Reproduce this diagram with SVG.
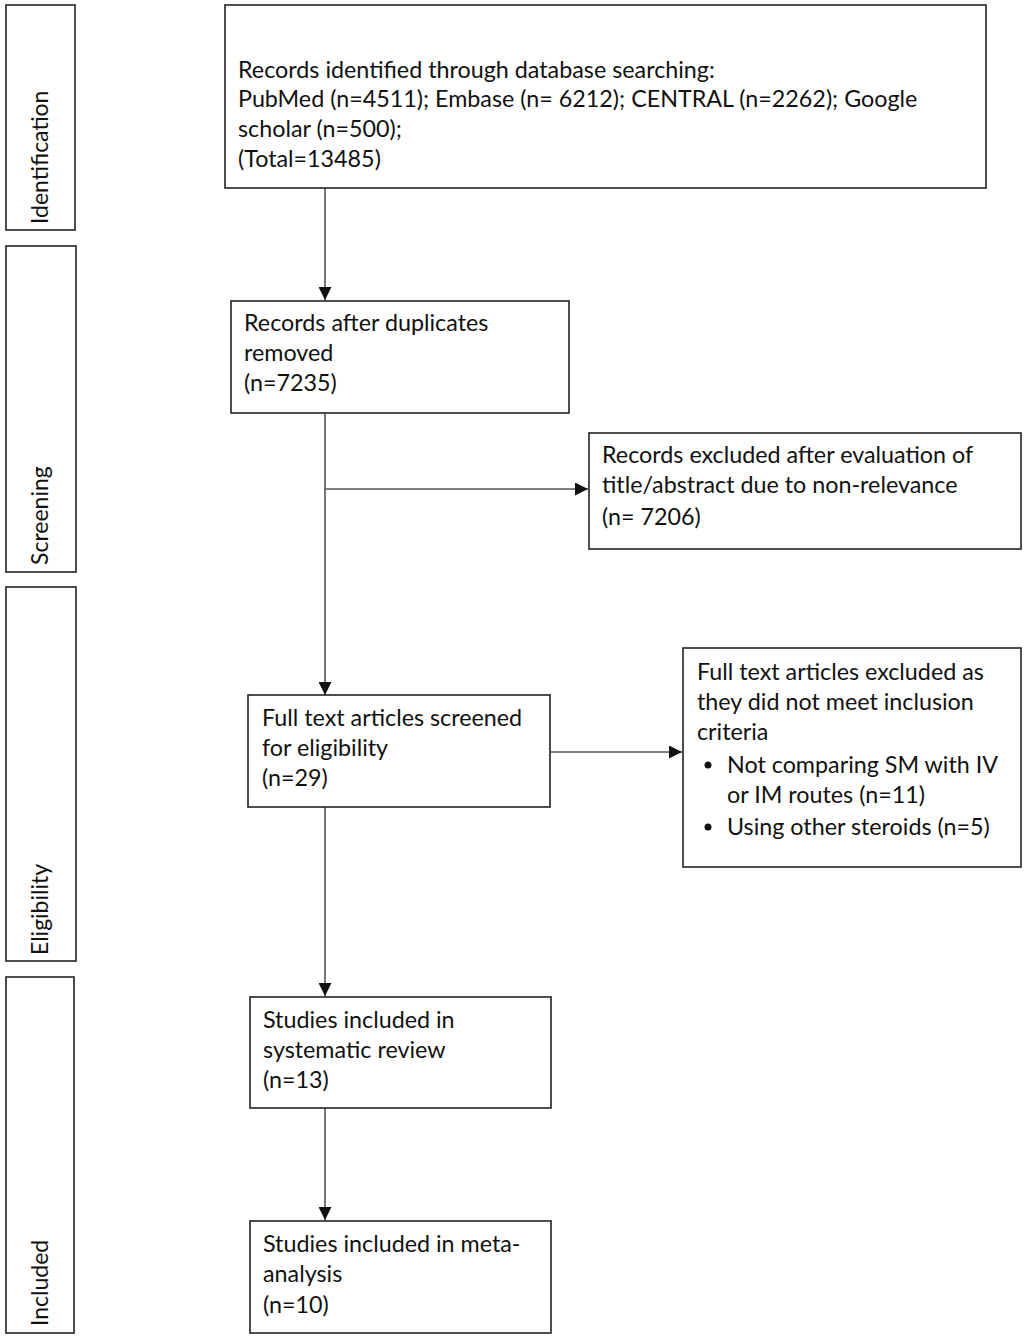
<svg xmlns="http://www.w3.org/2000/svg" width="1026" height="1339" viewBox="0 0 1026 1339">
<style>
.box{fill:#fff;stroke:#222;stroke-width:1.6}
.t{font-family:Lato,"Open Sans","Liberation Sans",sans-serif;font-size:23.3px;fill:#111}
.side{font-family:Lato,"Open Sans","Liberation Sans",sans-serif;font-size:23px;fill:#111}
.c{stroke:#555;stroke-width:1.6;fill:none}
</style>
<defs>
<marker id="ah" viewBox="0 0 10 10" refX="10" refY="5" markerWidth="13" markerHeight="13" markerUnits="userSpaceOnUse" orient="auto">
<path d="M0,0 L10,5 L0,10 z" fill="#111"/>
</marker>
</defs>
<rect width="1026" height="1339" fill="#fff"/>
<g id="stage-identification">
<rect class="box" x="6" y="5" width="69" height="225"/>
<text class="side" transform="translate(48,224) rotate(-90)">Identification</text>
</g>
<g id="stage-screening">
<rect class="box" x="6" y="246" width="70" height="326"/>
<text class="side" transform="translate(48,565) rotate(-90)">Screening</text>
</g>
<g id="stage-eligibility">
<rect class="box" x="6" y="587" width="70" height="374"/>
<text class="side" transform="translate(48,955) rotate(-90)">Eligibility</text>
</g>
<g id="stage-included">
<rect class="box" x="6" y="977" width="68" height="356"/>
<text class="side" transform="translate(48,1326) rotate(-90)">Included</text>
</g>
<g id="connectors">
<line class="c" x1="325" y1="188" x2="325" y2="300" marker-end="url(#ah)"/>
<line class="c" x1="325" y1="413" x2="325" y2="695" marker-end="url(#ah)"/>
<line class="c" x1="325" y1="489" x2="588" y2="489" marker-end="url(#ah)"/>
<line class="c" x1="550" y1="752" x2="682" y2="752" marker-end="url(#ah)"/>
<line class="c" x1="325" y1="807" x2="325" y2="996" marker-end="url(#ah)"/>
<line class="c" x1="325" y1="1108" x2="325" y2="1220" marker-end="url(#ah)"/>
</g>
<g id="node-identified">
<rect class="box" x="225" y="5" width="761" height="183"/>
<text class="t" x="238" y="78">Records identified through database searching:</text>
<text class="t" x="238" y="107">PubMed (n=4511); Embase (n= 6212); CENTRAL (n=2262); Google</text>
<text class="t" x="238" y="137">scholar (n=500);</text>
<text class="t" x="238" y="167">(Total=13485)</text>
</g>
<g id="node-duplicates">
<rect class="box" x="231" y="301" width="338" height="112"/>
<text class="t" x="244" y="331">Records after duplicates</text>
<text class="t" x="244" y="361">removed</text>
<text class="t" x="244" y="391">(n=7235)</text>
</g>
<g id="node-excluded-title">
<rect class="box" x="589" y="433" width="432" height="116"/>
<text class="t" x="602" y="463">Records excluded after evaluation of</text>
<text class="t" x="602" y="493">title/abstract due to non-relevance</text>
<text class="t" x="602" y="525">(n= 7206)</text>
</g>
<g id="node-fulltext">
<rect class="box" x="248" y="695" width="302" height="112"/>
<text class="t" x="262" y="726">Full text articles screened</text>
<text class="t" x="262" y="756">for eligibility</text>
<text class="t" x="262" y="786">(n=29)</text>
</g>
<g id="node-excluded-fulltext">
<rect class="box" x="683" y="648" width="338" height="219"/>
<text class="t" x="697" y="680">Full text articles excluded as</text>
<text class="t" x="697" y="710">they did not meet inclusion</text>
<text class="t" x="697" y="740">criteria</text>
<circle cx="708" cy="765" r="3.5" fill="#111"/>
<text class="t" x="727" y="773">Not comparing SM with IV</text>
<text class="t" x="727" y="803">or IM routes (n=11)</text>
<circle cx="708" cy="827" r="3.5" fill="#111"/>
<text class="t" x="727" y="835">Using other steroids (n=5)</text>
</g>
<g id="node-systematic">
<rect class="box" x="250" y="997" width="301" height="111"/>
<text class="t" x="263" y="1028">Studies included in</text>
<text class="t" x="263" y="1058">systematic review</text>
<text class="t" x="263" y="1088">(n=13)</text>
</g>
<g id="node-meta">
<rect class="box" x="250" y="1221" width="301" height="112"/>
<text class="t" x="263" y="1252">Studies included in meta-</text>
<text class="t" x="263" y="1282">analysis</text>
<text class="t" x="263" y="1313">(n=10)</text>
</g>
</svg>
